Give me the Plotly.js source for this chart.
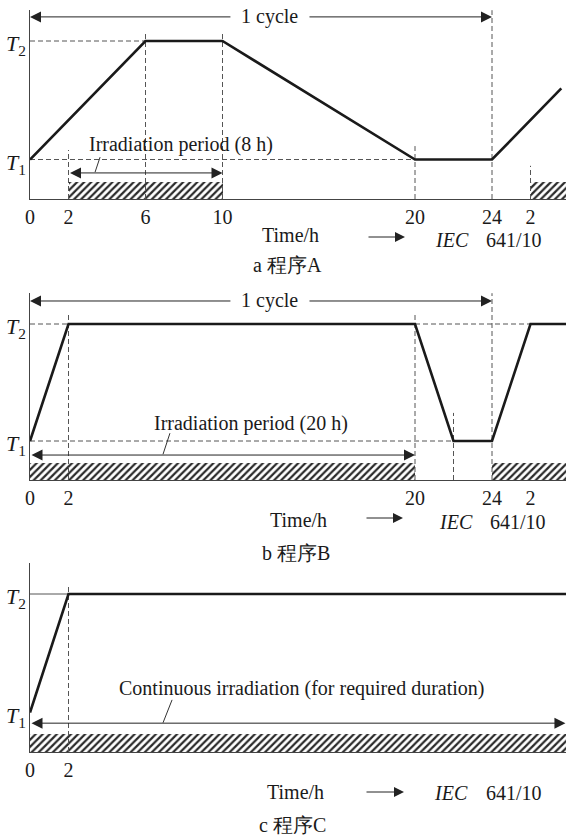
<!DOCTYPE html>
<html><head><meta charset="utf-8">
<script src="https://cdn.plot.ly/plotly-3.0.1.min.js"></script>
<style>html,body{margin:0;padding:0;background:#fff;}#c{width:566px;height:839px;}</style>
</head><body><div id="c"></div>
<script>
// ---------- data (hours / nominal temperature levels) ----------
const T1 = 1, T2 = 4;
const timeA = [0, 6, 10, 20, 24, 27.6];
const tempA = [T1, T2, T2, T1, T1, 2.8];
const timeB = [0, 2, 20, 22, 24, 26, 28];
const tempB = [T1, T2, T2, T1, T1, T2, T2];
const timeC = [0, 2, 28];
const tempC = [T1, T2, T2];

const irrStartA = [2, 26], irrEndA = [10, 28];
const irrStartB = [0, 24], irrEndB = [20, 28];
const irrStartC = [0], irrEndC = [28];

const tickValsA = [0, 2, 6, 10, 20, 24, 26];
const tickTextA = ['0', '2', '6', '10', '20', '24', '2'];
const tickValsB = [0, 2, 20, 24, 26];
const tickTextB = ['0', '2', '20', '24', '2'];
const tickValsC = [0, 2];
const tickTextC = ['0', '2'];

const guideTimesA = [2, 6, 10, 20, 24, 26];
const guideTopsA = [1.24, 4.23, 4.23, 1.34, 4.78, 0.84];
const guideTimesB = [2, 20, 22, 24];
const guideTopsB = [4.28, 4.28, 1.72, 4.79];
const guideTimesC = [2];
const guideTopsC = [4.18];

const labelA = 'Irradiation period (8 h)';
const labelB = 'Irradiation period (20 h)';
const labelC = 'Continuous irradiation (for required duration)';
const captions = ['a 程序A', 'b 程序B', 'c 程序C'];

// ---------- layout helpers ----------
const W = 566, H = 839;
const FONT = 'Liberation Serif';
const INK = '#1a1a1a', GUIDE = '#555', AX = '#444';
const pxPerHour = 19.25, x0px = 30;
const xMax = (W - x0px) / pxPerHour;

const panels = [
  {s: '', base: 199, top: 10, k: 39.5, time: timeA, temp: tempA, is: irrStartA, ie: irrEndA, hatch: 0.43,
   tv: tickValsA, tt: tickTextA, gt: guideTimesA, gh: guideTopsA},
  {s: '2', base: 480, top: 293, k: 39, time: timeB, temp: tempB, is: irrStartB, ie: irrEndB, hatch: 0.44,
   tv: tickValsB, tt: tickTextB, gt: guideTimesB, gh: guideTopsB},
  {s: '3', base: 752, top: 563, k: 39.5, time: timeC, temp: tempC, is: irrStartC, ie: irrEndC, hatch: 0.46,
   tv: tickValsC, tt: tickTextC, gt: guideTimesC, gh: guideTopsC}
];

const traces = [];
const layout = {
  width: W, height: H, margin: {l: 0, r: 0, t: 0, b: 0},
  paper_bgcolor: '#fff', plot_bgcolor: 'rgba(0,0,0,0)', showlegend: false,
  barmode: 'overlay', bargap: 0, font: {family: FONT, size: 20, color: INK},
  annotations: []
};
const ann = layout.annotations;
const py = v => (H - v) / H;
const pxx = v => v / W;

panels.forEach(p => {
  const xa = 'x' + p.s, ya = 'y' + p.s;
  const yTop = (p.base - p.top) / p.k;
  layout['xaxis' + p.s] = {
    domain: [x0px / W, 1], range: [0, xMax], anchor: ya,
    showline: true, linecolor: AX, linewidth: 1, showgrid: false, zeroline: false,
    ticks: '', tickvals: p.tv, ticktext: p.tt, tickfont: {family: FONT, size: 20, color: INK},
    fixedrange: true
  };
  layout['yaxis' + p.s] = {
    domain: [py(p.base), py(p.top)], range: [0, yTop], anchor: xa,
    showline: true, linecolor: AX, linewidth: 1, showgrid: false, zeroline: false,
    ticks: '', showticklabels: false, fixedrange: true
  };
  // hatched irradiation band
  traces.push({
    type: 'bar', xaxis: xa, yaxis: ya,
    x: p.is.map((a, i) => (a + p.ie[i]) / 2), width: p.is.map((a, i) => p.ie[i] - a),
    y: p.is.map(() => p.hatch), base: 0,
    marker: {color: '#fff', line: {width: 0},
      pattern: {shape: '/', fgcolor: '#2a2a2a', bgcolor: '#fff', size: 5, solidity: 0.45}},
    hoverinfo: 'skip'
  });
  // vertical dashed guides
  const gx = [], gy = [];
  p.gt.forEach((t, i) => { gx.push(t, t, null); gy.push(0, p.gh[i], null); });
  traces.push({type: 'scatter', mode: 'lines', xaxis: xa, yaxis: ya, x: gx, y: gy,
    line: {color: GUIDE, width: 1, dash: '5px,3px'}, hoverinfo: 'skip'});
  // T labels
  [[T2, '2'], [T1, '1']].forEach(([v, n]) => {
    ann.push({xref: 'paper', yref: ya, x: pxx(28), y: v, xanchor: 'right', yanchor: 'middle',
      text: '<i>T</i><sub>' + n + '</sub>', showarrow: false, yshift: -4,
      font: {family: FONT, size: 22, color: INK}});
  });
});

// horizontal guide lines
function hguide(s, xs, ys, dash) {
  traces.push({type: 'scatter', mode: 'lines', xaxis: 'x' + s, yaxis: 'y' + s, x: xs, y: ys,
    line: {color: GUIDE, width: 1, dash: dash || '5px,3px'}, hoverinfo: 'skip'});
}
hguide('', [0, 6, null, 0, 20], [T2, T2, null, T1, T1]);
hguide('2', [0, 2, null, 20, 26, null, 0, 22], [T2, T2, null, T2, T2, null, T1, T1]);
hguide('3', [0, 2], [T2, T2], 'solid');

// main temperature profiles
panels.forEach(p => {
  traces.push({type: 'scatter', mode: 'lines', xaxis: 'x' + p.s, yaxis: 'y' + p.s,
    x: p.time, y: p.temp, line: {color: INK, width: 2.6}, hoverinfo: 'skip'});
});

// leader lines
function leader(s, xs, ys) {
  traces.push({type: 'scatter', mode: 'lines', xaxis: 'x' + s, yaxis: 'y' + s, x: xs, y: ys,
    line: {color: '#333', width: 1}, hoverinfo: 'skip'});
}
leader('', [3.64, 3.38], [1.06, 0.68]);
leader('2', [7.27, 6.91], [1.2, 0.66]);
leader('3', [7.38, 6.91], [1.32, 0.74]);

// arrows
function arrow(s, xHead, xTail, y, both) {
  ann.push({xref: 'x' + s, yref: 'y' + s, axref: 'x' + s, ayref: 'y' + s,
    x: xHead, y: y, ax: xTail, ay: y, text: '', showarrow: true,
    arrowhead: 2, arrowsize: 2.2, arrowwidth: 1, arrowcolor: '#222',
    arrowside: both ? 'end+start' : 'end', startarrowhead: 2, startarrowsize: 2.2,
    standoff: 0, startstandoff: 0});
}
arrow('', 0, 10.49, 4.61);
arrow('', 24, 14.44, 4.61);
arrow('', 10, 2, 0.66, true);
arrow('2', 0, 10.49, 4.59);
arrow('2', 24, 14.44, 4.59);
arrow('2', 20, 0, 0.64, true);
arrow('3', xMax - 0.03, 0, 0.73, true);

function dtext(s, x, y, t) {
  ann.push({xref: 'x' + s, yref: 'y' + s, x: x, y: y, text: t, showarrow: false,
    xanchor: 'center', yanchor: 'middle', font: {family: FONT, size: 20, color: INK}});
}
dtext('', 12.42, 4.61, '1 cycle');
dtext('2', 12.42, 4.59, '1 cycle');
dtext('', 7.82, 1.37, labelA);
dtext('2', 11.5, 1.44, labelB);
dtext('3', 14.1, 1.62, labelC);

// bottom captions
function ptext(xc, yc, t, size) {
  ann.push({xref: 'paper', yref: 'paper', x: pxx(xc), y: py(yc), text: t, showarrow: false,
    xanchor: 'center', yanchor: 'middle', font: {family: FONT, size: size || 20, color: INK}});
}
function parrow(xh, len, yc) {
  ann.push({xref: 'paper', yref: 'paper', x: pxx(xh), y: py(yc), ax: -len, ay: 0, text: '',
    showarrow: true, arrowhead: 2, arrowsize: 2, arrowwidth: 1, arrowcolor: '#222', standoff: 0});
}
const rows = [
  {time: [290, 235], arr: [405, 38, 237], iec: [452, 240], num: [514, 240], cap: [287, 265]},
  {time: [298, 520], arr: [403, 38, 518], iec: [456, 522], num: [518, 522], cap: [296, 553]},
  {time: [295, 792], arr: [404, 39, 792], iec: [451, 793], num: [514, 793], cap: [292, 825]}
];
rows.forEach((r, i) => {
  ptext(r.time[0], r.time[1], 'Time/h');
  parrow(r.arr[0], r.arr[1], r.arr[2]);
  ptext(r.iec[0], r.iec[1], '<i>IEC</i>');
  ptext(r.num[0], r.num[1], '641/10');
  ptext(r.cap[0], r.cap[1], captions[i]);
});

Plotly.newPlot('c', traces, layout, {staticPlot: true, displayModeBar: false});
</script></body></html>
